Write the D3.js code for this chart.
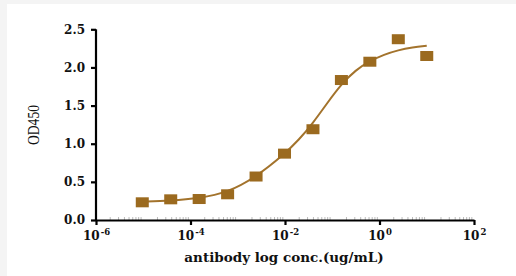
<!DOCTYPE html>
<html>
<head>
<meta charset="utf-8">
<script src="https://cdn.jsdelivr.net/npm/d3@7"></script>
<style>
  html, body { margin: 0; padding: 0; background: #f4f4f4; }
  svg { display: block; }
</style>
</head>
<body>
<div class="chart-wrapper"></div>
<script>
// measured points (4-fold dilution from 10 ug/mL)
const concentrations = [10, 2.5, 0.625, 0.15625, 0.0390625, 0.009765625, 0.00244140625, 0.0006103515625, 0.000152587890625, 0.00003814697265625, 0.0000095367431640625]
const od450 = [2.15, 2.37, 2.075, 1.835, 1.19, 0.87, 0.57, 0.337, 0.275, 0.271, 0.232]

// fitted curve
const curveConc = [0.0000095, 0.000038, 0.000153, 0.00061, 0.00244, 0.00977, 0.0195, 0.0391, 0.0781, 0.156, 0.3125, 0.625, 1.25, 2.5, 5, 10]
const curveOD = [0.239, 0.252, 0.284, 0.36, 0.564, 0.865, 1.048, 1.271, 1.533, 1.782, 1.966, 2.084, 2.169, 2.228, 2.263, 2.284]

const yTicks = [0, 0.5, 1.0, 1.5, 2.0, 2.5]
const xTickExp = [-6, -4, -2, 0, 2]

const width = 516
const height = 276
const brown = '#9b6a1f'

let svg = d3.select('.chart-wrapper').append('svg')
.attr('width', width)
.attr('height', height)

svg.append('rect')
.attr('x', 7)
.attr('y', 4)
.attr('width', width - 7)
.attr('height', height - 4)
.attr('fill', '#ffffff')

let x = d3.scaleLog()
.domain([1e-6, 1e2])
.range([96, 474])

let y = d3.scaleLinear()
.domain([0, 2.5])
.range([220, 29.3])

// minor ticks on x axis
let minor = []
for (let e = -6; e < 2; e++) {
	for (let m = 2; m < 10; m++) minor.push(m * Math.pow(10, e))
}

svg.append('g')
.selectAll('line')
.data(minor)
.enter()
.append('line')
.attr('x1', d => x(d))
.attr('x2', d => x(d))
.attr('y1', 220)
.attr('y2', 217)
.attr('stroke', '#aaaaaa')
.attr('stroke-width', 0.8)

// y axis
let yAxis = svg.append('g')
.attr('transform', 'translate(96,0)')
.call(d3.axisLeft(y).tickValues(yTicks).tickFormat(d3.format('.1f')).tickSize(5).tickPadding(6))

yAxis.select('.domain')
.attr('stroke-width', 2.2)
.attr('d', 'M0,' + y(0) + 'V' + y(2.5))

yAxis.selectAll('.tick line').attr('stroke-width', 2.2)
yAxis.selectAll('.tick text')
.attr('font-family', '"DejaVu Serif", serif')
.attr('font-weight', 'bold')
.attr('font-size', '12px')
.attr('fill', '#111')

// x axis
let xAxis = svg.append('g')
.attr('transform', 'translate(0,220)')
.call(d3.axisBottom(x).tickValues(xTickExp.map(e => Math.pow(10, e))).tickFormat('').tickSize(5).tickSizeOuter(0))

xAxis.select('.domain')
.attr('stroke-width', 2.2)
xAxis.selectAll('.tick line').attr('stroke-width', 2.2)

xAxis.selectAll('.tick')
.append('text')
.attr('y', 19.5)
.attr('fill', '#111')
.attr('font-family', '"DejaVu Serif", serif')
.attr('font-weight', 'bold')
.attr('font-size', '12px')
.attr('text-anchor', 'middle')
.each(function(d, i) {
	let t = d3.select(this)
	t.append('tspan').text('10')
	t.append('tspan')
	.attr('dy', -5)
	.attr('font-size', '8.5px')
	.attr('dx', 1)
	.text(xTickExp[i] < 0 ? '-' + Math.abs(xTickExp[i]) : xTickExp[i])
})

// axis titles
svg.append('text')
.attr('x', 284)
.attr('y', 262)
.attr('text-anchor', 'middle')
.attr('font-family', '"DejaVu Serif", serif')
.attr('font-weight', 'bold')
.attr('font-size', '13.5px')
.attr('fill', '#111')
.text('antibody log conc.(ug/mL)')

svg.append('text')
.attr('transform', 'translate(39,125) rotate(-90)')
.attr('text-anchor', 'middle')
.attr('font-family', '"Liberation Serif", serif')
.attr('font-size', '17px')
.attr('textLength', 40)
.attr('lengthAdjust', 'spacingAndGlyphs')
.attr('fill', '#111')
.text('OD450')

// fitted curve
let line = d3.line()
.x(d => x(d[0]))
.y(d => y(d[1]))
.curve(d3.curveBasis)

svg.append('path')
.datum(d3.zip(curveConc, curveOD))
.attr('d', line)
.attr('fill', 'none')
.attr('stroke', '#a3732c')
.attr('stroke-width', 2)

// points
svg.append('g')
.selectAll('rect')
.data(d3.zip(concentrations, od450))
.enter()
.append('rect')
.attr('x', d => x(d[0]) - 6.5)
.attr('y', d => y(d[1]) - 5)
.attr('width', 13)
.attr('height', 10)
.attr('fill', brown)
</script>
</body>
</html>
